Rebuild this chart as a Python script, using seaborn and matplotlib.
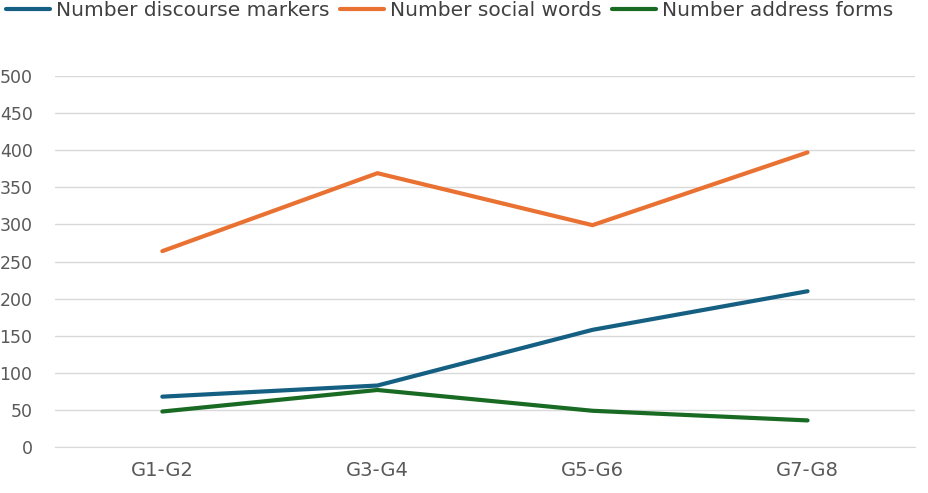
import matplotlib
matplotlib.use("Agg")
import matplotlib.pyplot as plt
import seaborn as sns
import pandas as pd

groups = ["G1-G2", "G3-G4", "G5-G6", "G7-G8"]
discourse_markers = [68, 83, 158, 210]
social_words = [264, 369, 299, 397]
address_forms = [48, 77, 49, 36]

series_names = ["Number discourse markers", "Number social words", "Number address forms"]
colors = ["#156082", "#E97132", "#196B24"]

rows = []
for name, vals in zip(series_names, [discourse_markers, social_words, address_forms]):
    for i, v in enumerate(vals):
        rows.append({"pos": i, "value": v, "series": name})
df = pd.DataFrame(rows)

sns.set_style("white")
plt.rcParams["font.family"] = ["DejaVu Sans"]

fig = plt.figure(figsize=(9.29, 4.93), dpi=100)
ax = fig.add_axes([0.059, 0.093, 0.926, 0.753])

sns.lineplot(data=df, x="pos", y="value", hue="series", palette=colors,
             linewidth=3, ax=ax, sort=False)

ax.set_xlim(-0.5, 3.5)
ax.set_ylim(0, 500)
ax.set_yticks(range(0, 501, 50))
ax.set_xticks(range(len(groups)))
ax.set_xticklabels(groups)
ax.grid(axis="y", color="#D9D9D9", linewidth=1)
ax.set_axisbelow(True)
for s in ["top", "right", "left"]:
    ax.spines[s].set_visible(False)
ax.spines["bottom"].set_color("#D9D9D9")
ax.tick_params(axis="both", length=0, colors="#595959")
ax.tick_params(axis="y", labelsize=12.5, pad=16)
ax.tick_params(axis="x", labelsize=14, pad=10)
ax.set_xlabel("")
ax.set_ylabel("")

handles, labels = ax.get_legend_handles_labels()
ax.legend(handles, labels, loc="lower left", bbox_to_anchor=(-0.066, 1.13),
          ncol=3, frameon=False, fontsize=14.5, handlelength=2.2,
          handletextpad=0.3, columnspacing=0.5, borderaxespad=0,
          labelcolor="#404040")

fig.savefig("out.png", dpi=100)
